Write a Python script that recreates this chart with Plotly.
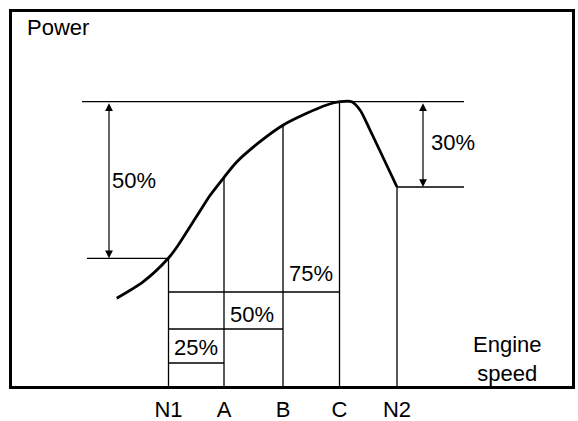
import plotly.graph_objects as go

# Engine speed markers (arbitrary units) and their labels
tick_labels = ["N1", "A", "B", "C", "N2"]
tick_speeds = [156.5, 212, 271, 327.5, 385]

# Power curve vs engine speed (arbitrary units)
curve_speed = [104.7, 131.3, 156.3, 166.3, 178, 188, 198, 211.3, 224.7, 248, 271.3, 294.7, 314.7, 328, 339.7, 348, 358, 385]
curve_power = [87.7, 104.3, 127.7, 141, 159.3, 175, 190.5, 207.7, 224, 244.3, 261, 272.7, 281, 284.3, 284.3, 276, 256, 199]

# Power at each marker speed
marker_power = [127.7, 208, 261, 284.3, 199]

# Reference levels
peak_power = 284.3
n1_power = 127.7
n2_power = 199
ref_line_start = 70
ref_line_end = 452
n1_line_start = 75

# Percentage step levels
step_levels = [94, 57, 23]
step_end_speeds = [327.5, 271, 212]
step_labels = ["75%", "50%", "25%"]
step_label_pos = [(299, 113), (240, 72), (184, 39)]

black = "#000000"
font = dict(family="Liberation Sans, Arial, sans-serif", size=22, color=black)

fig = go.Figure()

thin = dict(color=black, width=1.3)

# vertical lines at marker speeds
for s, p in zip(tick_speeds, marker_power):
    fig.add_trace(go.Scatter(x=[s, s], y=[0, p], mode="lines", line=thin, hoverinfo="skip"))

# top reference line
fig.add_trace(go.Scatter(x=[ref_line_start, ref_line_end], y=[peak_power, peak_power], mode="lines",
                         line=thin, hoverinfo="skip"))
# N1 reference line
fig.add_trace(go.Scatter(x=[n1_line_start, tick_speeds[0]], y=[n1_power, n1_power], mode="lines",
                         line=thin, hoverinfo="skip"))
# N2 reference line
fig.add_trace(go.Scatter(x=[tick_speeds[4], ref_line_end], y=[n2_power, n2_power], mode="lines",
                         line=thin, hoverinfo="skip"))

# step lines
for lvl, end in zip(step_levels, step_end_speeds):
    fig.add_trace(go.Scatter(x=[tick_speeds[0], end], y=[lvl, lvl], mode="lines",
                             line=thin, hoverinfo="skip"))

# power curve
fig.add_trace(go.Scatter(x=curve_speed, y=curve_power, mode="lines",
                         line=dict(color=black, width=2.8, shape="spline", smoothing=0.8),
                         hoverinfo="skip"))

annotations = []
# double-headed arrows
for ax_x, top, bot in [(97, peak_power, n1_power), (411, peak_power, n2_power)]:
    annotations.append(dict(x=ax_x, y=bot, ax=ax_x, ay=top, xref="x", yref="y", axref="x", ayref="y",
                            showarrow=True, arrowhead=2, startarrowhead=2, arrowside="end+start",
                            arrowsize=1.3, startarrowsize=1.3, arrowwidth=1.2, arrowcolor=black,
                            standoff=0, startstandoff=0, text=""))

annotations.append(dict(x=121.5, y=206, text="50%", showarrow=False, font=font))
annotations.append(dict(x=441, y=244, text="30%", showarrow=False, font=font))
for (lx, ly), t in zip(step_label_pos, step_labels):
    annotations.append(dict(x=lx, y=ly, text=t, showarrow=False, font=font))
annotations.append(dict(x=13, y=359, text="Power", showarrow=False, xanchor="left", font=font))
annotations.append(dict(x=495, y=27, text="Engine<br>speed", showarrow=False, font=font))

fig.update_layout(
    template="none",
    width=578, height=421,
    margin=dict(l=12, r=6, t=12, b=35, autoexpand=False),
    paper_bgcolor="white", plot_bgcolor="white",
    showlegend=False,
    annotations=annotations,
    xaxis=dict(range=[0, 560], showgrid=False, zeroline=False, showline=True, mirror=True,
               automargin=False, ticklabelstandoff=2,
               linecolor=black, linewidth=2.5, tickvals=tick_speeds, ticktext=tick_labels,
               ticks="", tickfont=font, fixedrange=True),
    yaxis=dict(range=[0, 374], showgrid=False, zeroline=False, showline=True, mirror=True,
               automargin=False,
               linecolor=black, linewidth=2.5, showticklabels=False, ticks="", fixedrange=True),
)

fig.write_html("out.html", config={"displayModeBar": False},
               post_script="document.body.style.margin='0';document.body.style.overflow='hidden';")
